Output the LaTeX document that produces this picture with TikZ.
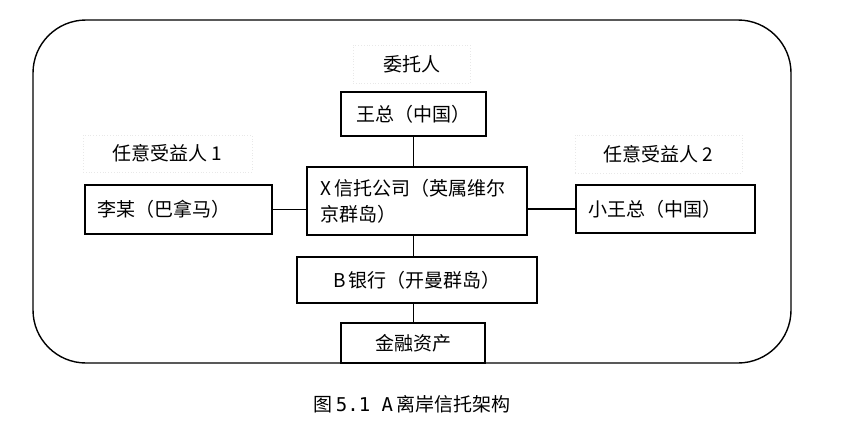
\documentclass[tikz,border=0pt]{standalone}
\usepackage{fontspec}
\setmainfont{Noto Sans CJK SC}
\newfontfamily\capmono{DejaVu Sans Mono}
\begin{document}
\begin{tikzpicture}[x=1pt,y=-1pt,
  box/.style={draw,line width=1.3pt,inner sep=0pt,font=\fontsize{19}{26}\selectfont},
  lbox/.style={box,align=left,text width=#1},
  lab/.style={draw=gray!18,dotted,line width=0.8pt,inner sep=0pt,font=\fontsize{19}{26}\selectfont},
  conn/.style={line width=1.3pt}]
\useasboundingbox (0,0) rectangle (842,434);
\draw[line width=1.4pt,rounded corners=53pt] (33,20) rectangle (791,363);
% labels
\node[lab,minimum width=117pt,minimum height=38pt] (wt) at (411.5,64) {委托人};
\node[lab,minimum width=169pt,minimum height=37pt] (b1) at (167.5,153.5) {任意受益人 1};
\node[lab,minimum width=167pt,minimum height=38pt] (b2) at (658.5,154) {任意受益人 2};
% boxes
\node[box,minimum width=145pt,minimum height=44pt] (wang) at (413.5,114) {王总（中国）};
\node[lbox=163pt,minimum width=187pt,minimum height=49pt] (li) at (178.5,209.5) {李某（巴拿马）};
\node[lbox=194pt,minimum width=220pt,minimum height=68pt] (xc) at (417,201) {X\,信托公司（英属维尔\\京群岛）};
\node[lbox=155pt,minimum width=179pt,minimum height=48pt] (xiao) at (665.5,209) {小王总（中国）};
\node[box,minimum width=240pt,minimum height=46pt] (bank) at (417,280) {B\,银行（开曼群岛）};
\node[box,minimum width=144pt,minimum height=40pt] (jin) at (413,343) {金融资产};
% connectors
\draw[conn] (wang.south) -- (wang.south |- xc.north);
\draw[conn] (xc.south -| wang.south) -- (wang.south |- bank.north);
\draw[conn] (bank.south -| wang.south) -- (wang.south |- jin.north);
\draw[conn] (li.east) -- (li.east -| xc.west);
\draw[conn] (xiao.west -| xc.east) -- (xiao.west);
% caption
\node[font=\fontsize{19}{22}\selectfont] (cap) at (412,404) {图\,{\capmono 5.1 A}\,离岸信托架构};
\end{tikzpicture}
\end{document}
